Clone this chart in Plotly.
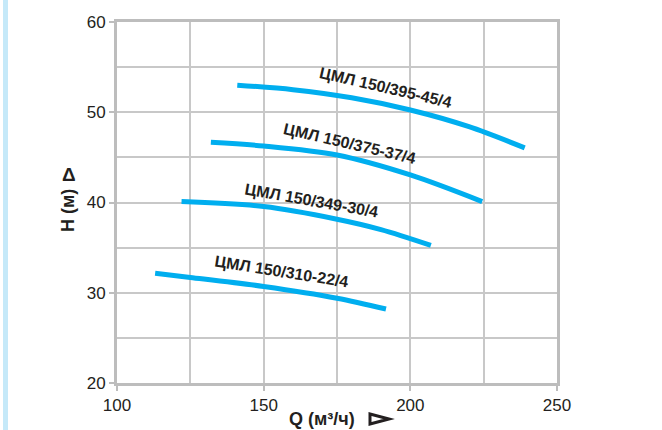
import plotly.graph_objects as go

# Pump curves: Q (m3/h) vs H (m)
names = ["ЦМЛ 150/395-45/4", "ЦМЛ 150/375-37/4", "ЦМЛ 150/349-30/4", "ЦМЛ 150/310-22/4"]
q1 = [141, 160, 180, 200, 220, 239]
h1 = [53.0, 52.5, 51.6, 50.25, 48.4, 46.05]
q2 = [132, 150, 175, 200, 224.5]
h2 = [46.67, 46.26, 45.26, 43.05, 40.1]
q3 = [122, 150, 175, 190, 207]
h3 = [40.1, 39.55, 38.15, 37.0, 35.25]
q4 = [113, 125, 150, 175, 191.7]
h4 = [32.15, 31.7, 30.7, 29.4, 28.2]

label_q = [191.5, 179.3, 166.3, 156.1]
label_h = [52.7, 46.5, 40.2, 32.3]
label_angle = [13, 13, 10, 9]

x_ticks = [100, 150, 200, 250]
y_ticks = [20, 30, 40, 50, 60]

CURVE = "#00aeef"
GRID = "#c8c8c8"
BORDER = "#bdbdbd"
TXT = "#231f20"

fig = go.Figure()
for q, h in [(q1, h1), (q2, h2), (q3, h3), (q4, h4)]:
    fig.add_trace(go.Scatter(x=q, y=h, mode="lines",
                             line=dict(color=CURVE, width=5, shape="spline", smoothing=0.9),
                             showlegend=False, hoverinfo="skip"))

for n, xq, yh, a in zip(names, label_q, label_h, label_angle):
    fig.add_annotation(x=xq, y=yh, text=f"<b>{n}</b>", showarrow=False, textangle=a,
                       font=dict(family="Liberation Sans, Arial", size=16, color=TXT),
                       xanchor="center", yanchor="middle")

W, H = 662, 430
L, R, T, B = 117, 105, 22, 47
pw, ph = W - L - R, H - T - B

def px(xp):
    return (xp - L) / pw

def py(yp):
    return 1 - (yp - T) / ph

# axis titles
fig.add_annotation(x=px(322), y=py(419), xref="paper", yref="paper", text="<b>Q (м³/ч)</b>",
                   showarrow=False, font=dict(family="Liberation Sans, Arial", size=18, color=TXT),
                   xanchor="center", yanchor="middle")
fig.add_shape(type="path", xref="paper", yref="paper",
              path=f"M {px(370)} {py(414)} L {px(389)} {py(419)} L {px(370)} {py(424)} Z",
              line=dict(color=TXT, width=3), fillcolor="rgba(0,0,0,0)")
fig.add_annotation(x=px(68), y=py(211), xref="paper", yref="paper", text="<b>H (м)</b>",
                   showarrow=False, textangle=-90,
                   font=dict(family="Liberation Sans, Arial", size=18, color=TXT),
                   xanchor="center", yanchor="middle")
fig.add_annotation(x=px(69), y=py(174), xref="paper", yref="paper", text="<b>Δ</b>",
                   showarrow=False, font=dict(family="Liberation Sans, Arial", size=19, color=TXT),
                   xanchor="center", yanchor="middle")

# light blue strip at the left edge
fig.add_shape(type="rect", xref="paper", yref="paper", x0=px(3), x1=px(8), y0=py(430), y1=py(0),
              fillcolor="#c5e9f9", line=dict(width=0), layer="below")

axis_common = dict(showline=True, linecolor=BORDER, linewidth=3, mirror=True,
                   showgrid=True, gridcolor=GRID, gridwidth=1.5, zeroline=False,
                   ticks="outside", ticklen=5, tickwidth=1.5, tickcolor=BORDER,
                   tickfont=dict(family="Liberation Sans, Arial", size=17, color=TXT))

fig.update_xaxes(range=[100, 250], tickvals=x_ticks, ticktext=[str(v) for v in x_ticks],
                 minor=dict(dtick=25, tick0=100, showgrid=True, gridcolor=GRID, gridwidth=1.5, ticks=""),
                 **axis_common)
fig.update_yaxes(range=[20, 60], tickvals=y_ticks, ticktext=[str(v) for v in y_ticks],
                 minor=dict(dtick=5, tick0=20, showgrid=True, gridcolor=GRID, gridwidth=1.5, ticks=""),
                 **axis_common)

fig.update_layout(width=W, height=H, margin=dict(l=L, r=R, t=T, b=B),
                  paper_bgcolor="white", plot_bgcolor="white", showlegend=False)

fig.write_html("out.html", config={"displayModeBar": False},
               post_script="document.body.style.margin='0';document.body.style.overflow='hidden';")
